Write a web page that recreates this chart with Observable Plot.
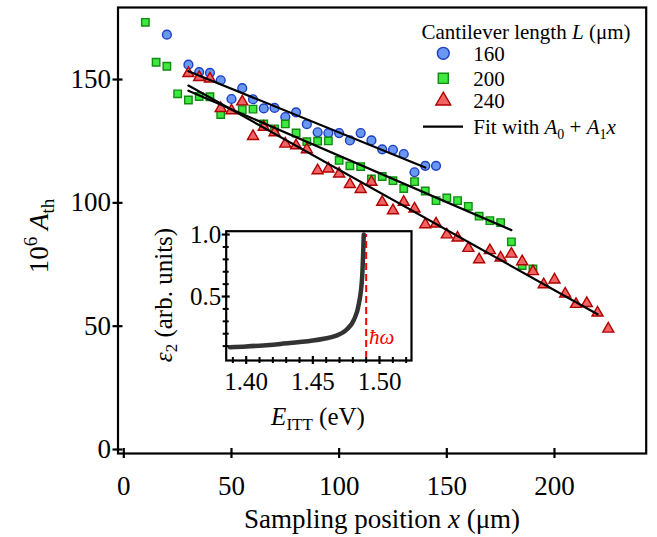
<!DOCTYPE html>
<html><head><meta charset="utf-8">
<script src="https://cdn.jsdelivr.net/npm/d3@7"></script>
<script src="https://cdn.jsdelivr.net/npm/@observablehq/plot@0.6"></script>
<style>
body{margin:0;background:#fff}
#wrap{position:relative;width:657px;height:537px;overflow:hidden}
#wrap svg{position:absolute}
#wrap svg text{font-family:'Liberation Serif','Times New Roman',serif !important}
</style></head><body><div id="wrap"></div>
<script>
// ---- data ----
const series = [160, 200, 240];
const x160 = [20,30,35,40,45,50,55,60,65,70,75,80,85,90,95,100,105,110,115,120,125,130,135,140,145];
const y160 = [168.2,156,153,152.7,149.7,142.1,146.5,142,138.3,138.5,134.8,136.7,131.9,128.6,128.3,128.3,125.3,128.3,125.3,121.7,121.5,119.8,112.4,115,115];
const x200 = [10,15,20,25,30,35,40,45,55,60,65,70,75,80,85,90,95,100,105,110,115,120,125,130,135,140,145,150,155,160,165,170,175,180,185,190];
const y200 = [173.2,157,155.4,144.2,141.7,143.1,143,135.8,137.8,138,132,130,132,128.3,124.8,125,125.1,117.2,115,114.7,109.7,110.7,109,105.8,108.6,104.8,100.9,102,100.9,98.6,94.6,92.8,92,84.2,74.6,73.2];
const x240 = [30,35,40,45,50,55,60,65,70,75,80,85,90,95,100,105,110,115,120,125,130,135,140,145,150,155,160,165,170,175,180,185,190,195,200,205,210,215,220,225];
const y240 = [152.5,150.9,150.3,138.3,137.4,141,127,130.7,128.5,123.9,123.2,121.6,113.1,113.8,111.8,107.5,105.5,108.4,100.3,96.9,100.3,97.6,91.2,91.5,87.1,85.8,81.6,77,80.7,77.7,79.3,76.2,72.2,66.9,68.8,63.1,58.9,59.3,55.4,48.9];
// linear fits A0 + A1 x
const fitA0 = [164, 156.8, 162.2];
const fitA1 = [-0.355, -0.377, -0.488];
const fitStart = [30, 30, 30];
const fitEnd = [140, 180, 220];
const xTicks = [0, 50, 100, 150, 200];
const yTicks = [0, 50, 100, 150];
// inset curve
const insetE = [1.3877,1.40,1.4257,1.45,1.4582,1.4665,1.475,1.4807,1.4845,1.487,1.4882];
const insetEps = [0.091,0.097,0.118,0.145,0.16,0.18,0.23,0.31,0.44,0.66,1.0];
const hbarOmega = 1.49;
const insetXTicks = [1.40, 1.45, 1.50];
const insetYTicks = [0.5, 1.0];
const insetXMinor = [1.39,1.41,1.42,1.43,1.44,1.46,1.47,1.48,1.49,1.51,1.52];
const insetYMinor = [0.1,0.2,0.3,0.4,0.6,0.7,0.8,0.9];

// ---- build tables ----
const colors = {
  160: {fill: "#6a98f0", stroke: "#1d3fc4", symbol: "circle", r: 4.4},
  200: {fill: "#3ee83e", stroke: "#138a13", symbol: "square", r: 4.2},
  240: {fill: "#f06464", stroke: "#b00000", symbol: "triangle", r: 4.1}
};
const xs = {160: x160, 200: x200, 240: x240};
const ys = {160: y160, 200: y200, 240: y240};
const rows = [];
series.forEach(L => xs[L].forEach((x, i) => rows.push({L, x, y: ys[L][i]})));
const fitRows = [];
series.forEach((L, i) => [fitStart[i], fitEnd[i]].forEach(x => fitRows.push({L, x, y: fitA0[i] + fitA1[i] * x})));
const inset = insetE.map((e, i) => ({e, v: insetEps[i]}));

const FONT = "'Liberation Serif', 'Times New Roman', serif";
const W = 657, H = 537;
const main = Plot.plot({
  width: W, height: H,
  marginLeft: 117.5, marginRight: 11.3, marginTop: 7, marginBottom: 84,
  style: {fontFamily: FONT, fontSize: "27px", background: "white", color: "black", overflow: "visible"},
  x: {domain: [-2.7, 242.6]},
  y: {domain: [-1.62, 179.2]},
  marks: [
    ...series.map(L => Plot.dot(rows.filter(d => d.L === L), {
      x: "x", y: "y", r: colors[L].r, symbol: colors[L].symbol,
      fill: colors[L].fill, stroke: colors[L].stroke, strokeWidth: 1.4
    })),
    Plot.line(fitRows, {x: "x", y: "y", z: "L", stroke: "black", strokeWidth: 2.2}),
    Plot.frame({stroke: "black", strokeWidth: 2.2}),
    Plot.axisX({ticks: xTicks, tickSize: 10, dy: -5, fill: "none", strokeWidth: 2.2, label: null}),
    Plot.axisX({ticks: xTicks, tickSize: 0, tickPadding: 22, label: null, fontSize: 27, fontFamily: FONT}),
    Plot.axisY({ticks: yTicks, tickSize: 10, dx: 5, fill: "none", strokeWidth: 2.2, label: null}),
    Plot.axisY({ticks: yTicks, tickSize: 0, tickPadding: 7, label: null, fontSize: 27, fontFamily: FONT})
  ]
});
main.style.left = "0px"; main.style.top = "0px";
document.getElementById("wrap").appendChild(main);

// titles and legend
const s = d3.select(main);
const xt = s.append("text").attr("x", 382).attr("y", 528).attr("text-anchor", "middle")
  .attr("font-size", 27).attr("fill", "black");
xt.append("tspan").text("Sampling position ");
xt.append("tspan").attr("font-style", "italic").text("x");
xt.append("tspan").text(" (μm)");

const yt = s.append("text").attr("transform", "translate(48,236) rotate(-90)").attr("text-anchor", "middle")
  .attr("font-size", 27).attr("fill", "black");
yt.append("tspan").text("10");
yt.append("tspan").attr("dy", -11).attr("font-size", 19).text("6");
yt.append("tspan").attr("dy", 11).text(" ");
yt.append("tspan").attr("font-style", "italic").text("A");
yt.append("tspan").attr("dy", 6).attr("font-size", 19).text("th");

const lg = s.append("g").attr("font-size", 21).attr("fill", "black").attr("text-anchor", "start");
const lt = lg.append("text").attr("x", 421.5).attr("y", 39);
lt.append("tspan").text("Cantilever length ");
lt.append("tspan").attr("font-style", "italic").text("L");
lt.append("tspan").text(" (μm)");
const legY = [53.3, 78.3, 100.7];
series.forEach((L, i) => {
  const c = colors[L];
  const sym = d3.symbol().type({circle: d3.symbolCircle, square: d3.symbolSquare, triangle: d3.symbolTriangle}[c.symbol])
    .size(Math.PI * Math.pow(c.r * 1.35, 2));
  lg.append("path").attr("d", sym()).attr("transform", `translate(443.3,${legY[i]})`)
    .attr("fill", c.fill).attr("stroke", c.stroke).attr("stroke-width", 1.4);
  lg.append("text").attr("x", 473.3).attr("y", legY[i] + 7.5).text(String(L));
});
lg.append("line").attr("x1", 423).attr("x2", 463).attr("y1", 126.7).attr("y2", 126.7)
  .attr("stroke", "black").attr("stroke-width", 2.2);
const ft = lg.append("text").attr("x", 473.3).attr("y", 134);
ft.append("tspan").text("Fit with ");
ft.append("tspan").attr("font-style", "italic").text("A");
ft.append("tspan").attr("dy", 5).attr("font-size", 14).text("0");
ft.append("tspan").attr("dy", -5).text(" + ");
ft.append("tspan").attr("font-style", "italic").text("A");
ft.append("tspan").attr("dy", 5).attr("font-size", 14).text("1");
ft.append("tspan").attr("dy", -5).attr("font-style", "italic").text("x");

// ---- inset ----
const IL = 130, IT = 215, IW = 290, IH = 215;
const ins = Plot.plot({
  width: IW, height: IH,
  marginLeft: 225.7 - IL, marginRight: IW - (411 - IL), marginTop: 230.7 - IT, marginBottom: IH - (360 - IT),
  style: {fontFamily: FONT, fontSize: "25px", background: "transparent", color: "black", overflow: "visible"},
  x: {domain: [1.385, 1.524]},
  y: {domain: [-0.016, 1.027]},
  marks: [
    Plot.frame({fill: "white", stroke: "black", strokeWidth: 2.2}),
    Plot.ruleX([hbarOmega], {y1: 0, y2: 1.0, stroke: "#ff0000", strokeWidth: 2, strokeDasharray: "7,4"}),
    Plot.line(inset, {x: "e", y: "v", stroke: "#333333", strokeWidth: 4.5, curve: "monotone-x"}),
    Plot.axisX({ticks: insetXTicks, tickSize: 8, dy: -4, fill: "none", strokeWidth: 2.2, label: null}),
    Plot.axisX({ticks: insetXMinor, tickSize: 6, dy: -3, fill: "none", strokeWidth: 2, label: null}),
    Plot.axisX({ticks: insetXTicks, tickSize: 0, tickPadding: 12, tickFormat: d3.format(".2f"), label: null, fontSize: 25, fontFamily: FONT}),
    Plot.axisY({ticks: insetYTicks, tickSize: 8, dx: 4, fill: "none", strokeWidth: 2.2, label: null}),
    Plot.axisY({ticks: insetYMinor, tickSize: 6, dx: 3, fill: "none", strokeWidth: 2, label: null}),
    Plot.axisY({ticks: insetYTicks, tickSize: 0, tickPadding: 5, tickFormat: d3.format(".1f"), label: null, fontSize: 25, fontFamily: FONT})
  ]
});
ins.style.left = IL + "px"; ins.style.top = IT + "px";
document.getElementById("wrap").appendChild(ins);
const si = d3.select(ins);
const et = si.append("text").attr("x", 318 - IL).attr("y", 425 - IT).attr("text-anchor", "middle")
  .attr("font-size", 25).attr("fill", "black");
et.append("tspan").attr("font-style", "italic").text("E");
et.append("tspan").attr("dy", 5).attr("font-size", 17).text("ITT");
et.append("tspan").attr("dy", -5).text(" (eV)");
const epst = si.append("text").attr("transform", `translate(${172 - IL},${295 - IT}) rotate(-90)`).attr("text-anchor", "middle")
  .attr("font-size", 25).attr("fill", "black");
epst.append("tspan").attr("font-style", "italic").text("ε");
epst.append("tspan").attr("dy", 5).attr("font-size", 17).text("2");
epst.append("tspan").attr("dy", -5).text(" (arb. units)");
si.append("text").attr("x", 369 - IL).attr("y", 344 - IT).attr("text-anchor", "start").attr("font-size", 21)
  .attr("font-style", "italic").attr("fill", "#ff0000").text("ħω");
</script></body></html>
